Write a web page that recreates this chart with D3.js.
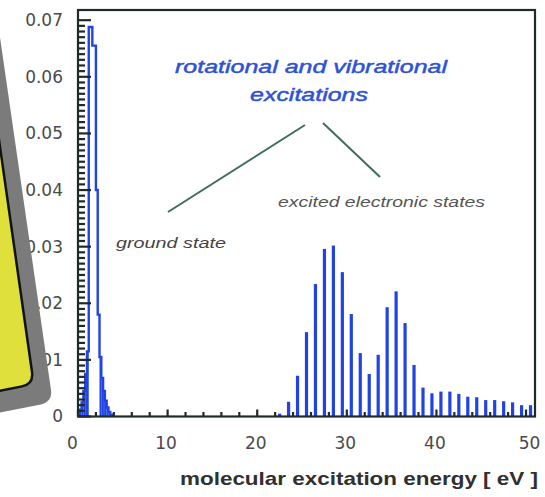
<!DOCTYPE html>
<html>
<head>
<meta charset="utf-8">
<script src="https://cdn.jsdelivr.net/npm/d3@7"></script>
<style>
  html, body { margin: 0; padding: 0; background: #fff; }
  svg { display: block; }
</style>
</head>
<body>
<script>
// Excited electronic states: bin centres (eV) and probabilities
const excitedEnergies = [22.5, 23.5, 24.5, 25.5, 26.5, 27.5, 28.5, 29.5, 30.5, 31.5,
  32.5, 33.5, 34.5, 35.5, 36.5, 37.5, 38.5, 39.5, 40.5, 41.5,
  42.5, 43.5, 44.5, 45.5, 46.5, 47.5, 48.5, 49.5, 50.5];
const excitedValues = [0.0005, 0.0026, 0.0072, 0.0149, 0.0234, 0.0296, 0.0302, 0.0255, 0.0181, 0.0112,
  0.0075, 0.0109, 0.0193, 0.0221, 0.0165, 0.0091, 0.0051, 0.0041, 0.0044, 0.0044,
  0.0040, 0.0035, 0.0034, 0.0029, 0.0029, 0.0027, 0.0025, 0.0020, 0.0020];

// Ground-state band (rotational / vibrational): fine bins, left edges (eV) and probabilities
const groundEdges = [0.2, 0.4, 0.6, 0.8, 1.0, 1.2, 1.4, 1.6, 1.8, 2.0,
  2.2, 2.4, 2.6, 2.8, 3.0, 3.2, 3.4, 3.6];
const groundValues = [0.0012, 0.0025, 0.0045, 0.0075, 0.0115, 0.0688, 0.0688, 0.0655, 0.0655, 0.0400,
  0.0180, 0.0105, 0.0068, 0.0045, 0.0028, 0.0016, 0.0008, 0.0003];
const groundBinWidth = 0.2;

const xTickLabels = [0, 10, 20, 30, 40, 50];
const yTickLabels = [0, 0.01, 0.02, 0.03, 0.04, 0.05, 0.06, 0.07];
const xTitle = "molecular excitation energy  [ eV ]";

const W = 545, H = 497;
const plotLeft = 78, plotRight = 535, plotTop = 10, plotBottom = 416.5;

const svg = d3.select("body").append("svg")
  .attr("width", W).attr("height", H)
  .attr("viewBox", `0 0 ${W} ${H}`);

const x = d3.scaleLinear().domain([0, 51]).range([plotLeft, plotRight]);
const y = d3.scaleLinear().domain([0, 0.0718]).range([plotBottom, plotTop]);

const blue = "#2143e6";
const axisColor = "#1f2b27";

// Excited-state bars
svg.append("g").selectAll("rect")
  .data(excitedEnergies.map((e, i) => ({ e, v: excitedValues[i] })))
  .join("rect")
  .attr("x", d => x(d.e) - 1.6)
  .attr("width", 3.2)
  .attr("y", d => y(d.v))
  .attr("height", d => y(0) - y(d.v))
  .attr("fill", blue);

// Ground-state band: low bins filled, whole band outlined as a step histogram
const groundBins = groundEdges.map((e, i) => ({ e, v: groundValues[i] }));
svg.append("g").selectAll("rect")
  .data(groundBins.filter(d => d.v < 0.012))
  .join("rect")
  .attr("x", d => x(d.e))
  .attr("width", d => x(d.e + groundBinWidth) - x(d.e))
  .attr("y", d => y(d.v))
  .attr("height", d => y(0) - y(d.v))
  .attr("fill", blue);

const outlinePts = [[groundEdges[0], 0]]
  .concat(groundBins.map(d => [d.e, d.v]))
  .concat([[groundEdges[groundEdges.length - 1] + groundBinWidth, 0]]);
svg.append("path")
  .attr("d", d3.line().x(d => x(d[0])).y(d => y(d[1])).curve(d3.curveStepAfter)(outlinePts))
  .attr("fill", "none")
  .attr("stroke", blue)
  .attr("stroke-width", 2.4)
  .attr("stroke-linejoin", "miter");

// Inward tick marks: y every 0.001 (longer at each 0.01), x every 2 eV (longer at each 10 eV)
const yTickVals = d3.range(0, 71).map(i => i / 1000);
svg.append("g").selectAll("line")
  .data(yTickVals)
  .join("line")
  .attr("x1", plotLeft)
  .attr("x2", (d, i) => plotLeft + (i % 10 === 0 ? 13 : 7))
  .attr("y1", d => y(d)).attr("y2", d => y(d))
  .attr("stroke", axisColor).attr("stroke-width", 2.2);

const xTickVals = d3.range(0, 51, 2);
svg.append("g").selectAll("line")
  .data(xTickVals)
  .join("line")
  .attr("x1", d => x(d)).attr("x2", d => x(d))
  .attr("y1", plotBottom)
  .attr("y2", d => plotBottom - (d % 10 === 0 ? 7 : 4.5))
  .attr("stroke", axisColor).attr("stroke-width", 2.2);

// Tick labels through d3 axes (tick lines hidden)
const yAxis = svg.append("g").attr("transform", `translate(${plotLeft},0)`)
  .call(d3.axisLeft(y).tickValues(yTickLabels).tickSize(0).tickPadding(15)
    .tickFormat(d => d === 0 ? "0" : d3.format(".2f")(d)));
const xAxis = svg.append("g").attr("transform", `translate(0,${plotBottom})`)
  .call(d3.axisBottom(x).tickValues(xTickLabels).tickSize(0).tickPadding(20).tickFormat(d3.format("d")));
xAxis.selectAll(".tick text").attr("dx", d => d === 0 ? -6 : (d === 50 ? 3 : -2));

[yAxis, xAxis].forEach(g => {
  g.select(".domain").remove();
  g.selectAll(".tick line").remove();
  g.selectAll("text")
    .attr("font-family", "'DejaVu Sans', sans-serif")
    .attr("font-size", 17)
    .attr("fill", "#4a4a4a");
});

// Plot frame
svg.append("rect")
  .attr("x", plotLeft).attr("y", plotTop)
  .attr("width", plotRight - plotLeft).attr("height", plotBottom - plotTop)
  .attr("fill", "none")
  .attr("stroke", axisColor)
  .attr("stroke-width", 2.2);

// Axis title
svg.append("text")
  .attr("x", 180).attr("y", 485)
  .attr("font-family", "'Liberation Sans', Arial, sans-serif")
  .attr("font-weight", "bold")
  .attr("font-size", 19)
  .attr("fill", "#303030")
  .attr("textLength", 358)
  .attr("lengthAdjust", "spacingAndGlyphs")
  .text(xTitle);

// Annotations
const note = svg.append("g").attr("font-family", "'Liberation Sans', Arial, sans-serif").attr("font-style", "italic");
note.append("text")
  .attr("x", 175).attr("y", 73)
  .attr("font-size", 18.5).attr("fill", "#2d52d6")
  .attr("stroke", "#2d52d6").attr("stroke-width", 0.45)
  .attr("textLength", 272).attr("lengthAdjust", "spacingAndGlyphs")
  .text("rotational and vibrational");
note.append("text")
  .attr("x", 250).attr("y", 101)
  .attr("font-size", 18.5).attr("fill", "#2d52d6")
  .attr("stroke", "#2d52d6").attr("stroke-width", 0.45)
  .attr("textLength", 118).attr("lengthAdjust", "spacingAndGlyphs")
  .text("excitations");
note.append("text")
  .attr("x", 278).attr("y", 207)
  .attr("font-size", 14).attr("fill", "#555")
  .attr("textLength", 207).attr("lengthAdjust", "spacingAndGlyphs")
  .text("excited electronic states");
note.append("text")
  .attr("x", 116).attr("y", 248)
  .attr("font-size", 15).attr("fill", "#444")
  .attr("textLength", 110).attr("lengthAdjust", "spacingAndGlyphs")
  .text("ground state");

const leaders = [
  [[305, 125], [168, 212]],
  [[323, 123], [380, 177]]
];
svg.append("g").selectAll("line")
  .data(leaders)
  .join("line")
  .attr("x1", d => d[0][0]).attr("y1", d => d[0][1])
  .attr("x2", d => d[1][0]).attr("y2", d => d[1][1])
  .attr("stroke", "#3f6c61")
  .attr("stroke-width", 2);

// Yellow callout box with its shadow at the left edge
svg.append("path")
  .attr("d", "M -10 -32 L 51 390 Q 52.7 402 40.9 404.4 L -20 416.5 L -20 -32 Z")
  .attr("fill", "#7b7b7b");
svg.append("path")
  .attr("d", "M -28 -50 L 32 372 Q 33.7 384 21.9 386.4 L -40 398.5 L -40 -50 Z")
  .attr("fill", "#e0e03c")
  .attr("stroke", "#111")
  .attr("stroke-width", 2.5);
</script>
</body>
</html>
